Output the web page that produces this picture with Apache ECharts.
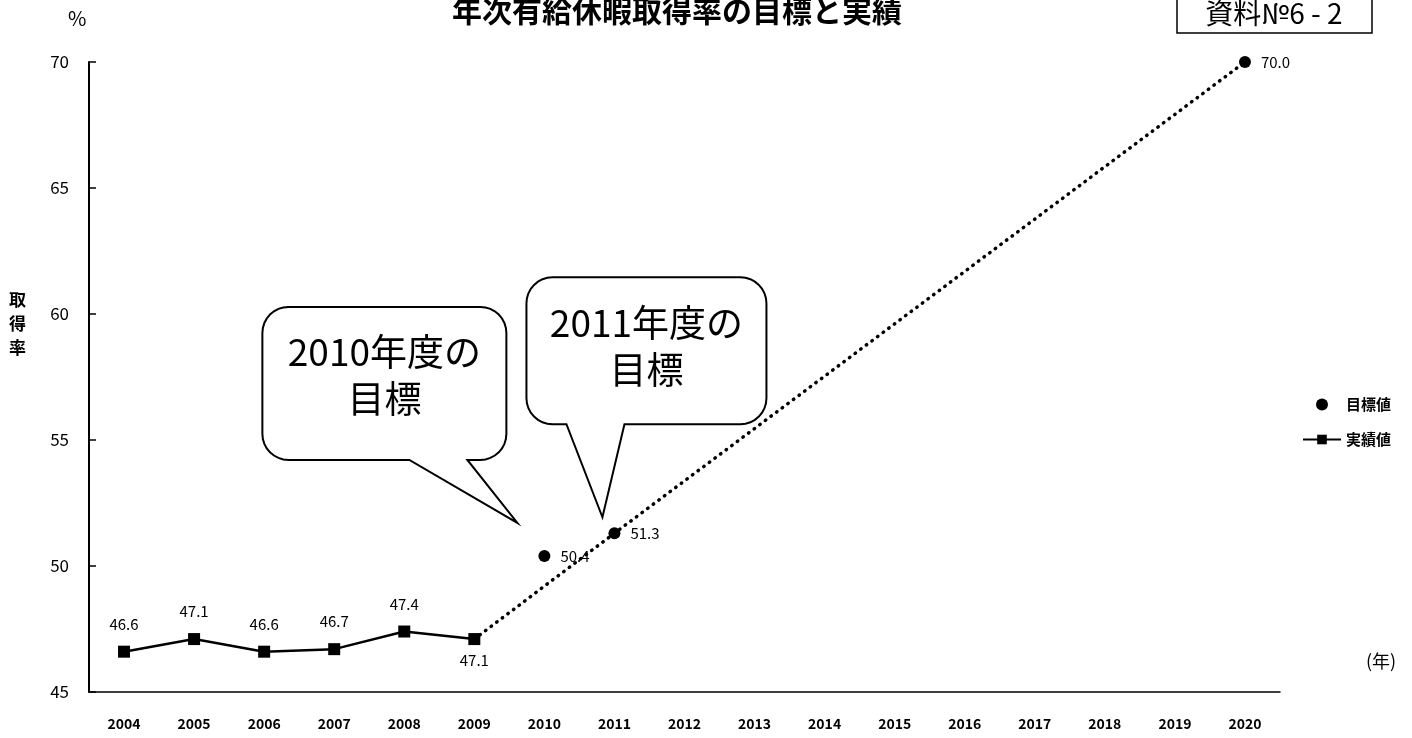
<!DOCTYPE html>
<html>
<head>
<meta charset="utf-8">
<script src="https://cdn.jsdelivr.net/npm/echarts@6/dist/echarts.min.js"></script>
<style>
  html, body { margin: 0; padding: 0; background: #fff; }
  #main { width: 1412px; height: 738px; }
</style>
</head>
<body>
<div id="main"></div>
<script>
var years = ['2004', '2005', '2006', '2007', '2008', '2009', '2010', '2011', '2012',
             '2013', '2014', '2015', '2016', '2017', '2018', '2019', '2020'];
// 実績値
var actual = [46.6, 47.1, 46.6, 46.7, 47.4, 47.1, null, null, null,
              null, null, null, null, null, null, null, null];
// 目標値
var target = [null, null, null, null, null, null, 50.4, 51.3, null,
              null, null, null, null, null, null, null, 70.0];
// 点線（2009実績 → 2011目標 → 2020目標）
var trend = [null, null, null, null, null, 47.1, null, 51.3, null,
             null, null, null, null, null, null, null, 70.0];
var yTicks = [45, 50, 55, 60, 65, 70];

var font = '"Noto Sans CJK JP", "Noto Sans", sans-serif';
var chart = echarts.init(document.getElementById('main'));

var option = {
    backgroundColor: '#fff',
    animation: false,
    textStyle: { fontFamily: font, color: '#000' },
    title: {
        text: '年次有給休暇取得率の目標と実績',
        left: 672, textAlign: 'center', top: -9,
        textStyle: { fontFamily: font, fontSize: 30, fontWeight: 'bold', color: '#000' }
    },
    legend: {
        orient: 'vertical',
        left: 1297, top: 392,
        itemWidth: 38, itemHeight: 12, itemGap: 20,
        textStyle: { fontFamily: font, fontSize: 15, fontWeight: 'bold', color: '#000' },
        data: [
            { name: '目標値', icon: 'circle' },
            { name: '実績値' }
        ]
    },
    grid: { left: 89, right: 132, top: 62, bottom: 46 },
    xAxis: {
        type: 'category',
        data: years,
        axisLine: { lineStyle: { color: '#000', width: 1.5 } },
        axisTick: { show: false },
        axisLabel: { fontFamily: font, fontSize: 14, fontWeight: 'bold', color: '#000', margin: 25 }
    },
    yAxis: {
        type: 'value',
        min: yTicks[0], max: yTicks[yTicks.length - 1], interval: 5,
        axisLine: { show: true, lineStyle: { color: '#000', width: 2 } },
        axisTick: { show: true, inside: true, length: 7, lineStyle: { color: '#000', width: 1.5 } },
        splitLine: { show: false },
        axisLabel: { fontFamily: font, fontSize: 17, color: '#000', margin: 20 }
    },
    series: [{
        name: 'trend',
        type: 'line',
        data: trend,
        connectNulls: true,
        symbol: 'none',
        silent: true,
        lineStyle: { color: '#000', width: 3.5, type: [0.5, 6.5], cap: 'round' },
        z: 1
    }, {
        name: '実績値',
        type: 'line',
        data: actual.map(function (v, i) {
            return i === 5 ? { value: v, label: { position: 'bottom', distance: 8 } } : v;
        }),
        symbol: 'rect',
        symbolSize: 12,
        itemStyle: { color: '#000' },
        lineStyle: { color: '#000', width: 2.5 },
        label: {
            show: true, position: 'top', distance: 14,
            fontFamily: font, fontSize: 15, color: '#000',
            formatter: function (p) { return p.value.toFixed(1); }
        },
        z: 3
    }, {
        name: '目標値',
        type: 'scatter',
        data: target,
        symbol: 'circle',
        symbolSize: 12,
        itemStyle: { color: '#000', opacity: 1 },
        label: {
            show: true, position: 'right', distance: 10,
            fontFamily: font, fontSize: 15, color: '#000',
            formatter: function (p) { return p.value.toFixed(1); }
        },
        z: 3
    }]
};
chart.setOption(option);

// 吹き出しの輪郭（角丸四角＋しっぽ）を点列で作る
function bubblePoints(x, y, w, h, r, b1, b2, tx, ty) {
    var pts = [];
    function corner(cx, cy, a0) {
        for (var k = 0; k <= 8; k++) {
            var a = (a0 + k * 90 / 8) * Math.PI / 180;
            pts.push([cx + r * Math.cos(a), cy + r * Math.sin(a)]);
        }
    }
    corner(x + r, y + r, 180);          // 左上
    corner(x + w - r, y + r, 270);      // 右上
    corner(x + w - r, y + h - r, 0);    // 右下
    pts.push([b2, y + h], [tx, ty], [b1, y + h]);
    corner(x + r, y + h - r, 90);       // 左下
    return pts;
}

function bubble(idx, text, dx, dy, w, h, b1, b2, tipDx, tipDy) {
    var p = chart.convertToPixel({ seriesIndex: 2 }, [idx, target[idx]]);
    var tx = p[0] + tipDx, ty = p[1] + tipDy;
    var x = p[0] + dx, y = p[1] + dy;
    return [{
        type: 'polygon',
        shape: { points: bubblePoints(x, y, w, h, 26, x + b1, x + b2, tx, ty) },
        style: { fill: '#fff', stroke: '#000', lineWidth: 2, lineJoin: 'miter' },
        z: 10
    }, {
        type: 'text',
        x: x + w / 2, y: y + 22,
        style: {
            text: text, fontFamily: font, fontSize: 37, lineHeight: 47,
            fill: '#000', align: 'center', verticalAlign: 'top'
        },
        z: 11
    }];
}

var graphics = []
    .concat(bubble(6, '2010年度の\n目標', -282, -249, 244, 153, 147, 205, -27, -33))
    .concat(bubble(7, '2011年度の\n目標', -88, -256, 240, 147, 40, 98, -12, -16));

graphics.push({
    type: 'text', left: 68, top: 8,
    style: { text: '%', fontFamily: font, fontSize: 20, fill: '#000' }
}, {
    type: 'text', left: 9, top: 288,
    style: { text: '取\n得\n率', fontFamily: font, fontSize: 17, lineHeight: 24, fontWeight: 'bold', fill: '#000' }
}, {
    type: 'text', left: 1366, top: 652,
    style: { text: '(年)', fontFamily: font, fontSize: 18, fill: '#000' }
}, {
    type: 'rect',
    shape: { x: 1177, y: -3, width: 195, height: 36 },
    style: { fill: '#fff', stroke: '#000', lineWidth: 1.5 }
}, {
    type: 'text', x: 1274, y: 13,
    style: {
        text: '資料№6 - 2', fontFamily: font, fontSize: 28, fill: '#000',
        align: 'center', verticalAlign: 'middle'
    }
});

chart.setOption({ graphic: graphics });
</script>
</body>
</html>
